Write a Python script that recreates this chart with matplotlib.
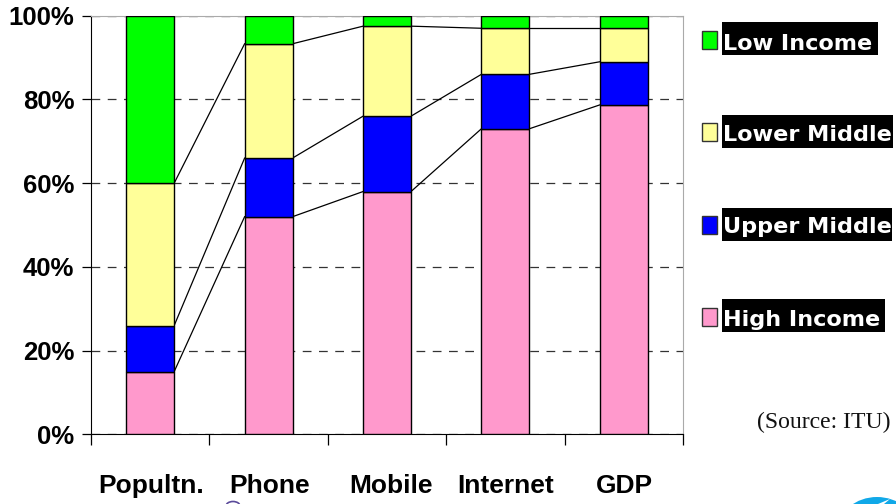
import numpy as np
import matplotlib
matplotlib.use('Agg')
import matplotlib.pyplot as plt
from matplotlib.patches import Rectangle, Ellipse, Polygon

# Share of world total per income group, in percent
categories = ['Popultn.', 'Phone', 'Mobile', 'Internet', 'GDP']
high_income = [15, 52, 58, 73, 78.7]
upper_middle = [11, 14, 18, 13, 10.3]
lower_middle = [34, 27.3, 21.5, 11, 8]
low_income = [40, 6.7, 2.5, 3, 3]

series = [high_income, upper_middle, lower_middle, low_income]
colors = ['#ff99cc', '#0000ff', '#ffff99', '#00ff00']
legend_labels = ['Low Income', 'Lower Middle', 'Upper Middle', 'High Income']
legend_colors = ['#00ff00', '#ffff99', '#0000ff', '#ff99cc']
yticks = [0, 20, 40, 60, 80, 100]

W, H = 896, 504
fig = plt.figure(figsize=(W / 100, H / 100), dpi=100)
ax = fig.add_axes([91 / W, 1 - 434.4 / H, (683 - 91) / W, 418.7 / H])

x = np.arange(len(categories))
width = 0.405
bottom = np.zeros(len(categories))
tops = []
for vals, c in zip(series, colors):
    ax.bar(x, vals, width, bottom=bottom, color=c, edgecolor='black', linewidth=1, zorder=3)
    bottom = bottom + np.array(vals)
    tops.append(bottom.copy())

# Series lines joining neighbouring bars
for top in tops[:-1]:
    for i in range(len(categories) - 1):
        ax.plot([x[i] + width / 2, x[i + 1] - width / 2], [top[i], top[i + 1]],
                color='black', lw=0.9, zorder=2)

ax.set_xlim(-0.5, 4.5)
ax.set_ylim(0, 100)
ax.set_yticks(yticks)
ax.set_yticklabels([f'{t}%' for t in yticks], fontsize=18.5, fontweight='bold',
                   family='Liberation Sans')
ax.set_xticks(np.arange(-0.5, 5))
ax.set_xticklabels([])
ax.tick_params(axis='y', direction='out', length=6.5, width=0.9, pad=5.5)
ax.tick_params(axis='x', direction='out', length=8, width=0.9)
ax.grid(axis='y', color='#333333', lw=0.9, ls=(0, (7, 6)), zorder=1)
ax.set_axisbelow(True)
for s in ['top', 'right']:
    ax.spines[s].set_color('#aaaaaa')

for c, px in zip(categories, [151, 270, 391, 506, 624]):
    fig.text(px / W, 1 - 493 / H, c, fontsize=19, fontweight='bold', family='Liberation Sans',
             ha='center', va='baseline', color='black')

# Legend drawn by hand, white text on black strips
strip_top = [22, 115, 208, 299]
swatch_top = [31, 123, 216, 308]
baseline = [50, 141, 233, 326]
strip_right = [878, 893, 892, 885]
for lab, c, st, sw, b, r in zip(legend_labels, legend_colors, strip_top, swatch_top, baseline, strip_right):
    fig.add_artist(Rectangle((701.5 / W, 1 - (sw + 18) / H), 15 / W, 18 / H, transform=fig.transFigure,
                             fc=c, ec='#333333', lw=1))
    fig.add_artist(Rectangle((722 / W, 1 - (st + 33) / H), (r - 722) / W, 33 / H, transform=fig.transFigure,
                             fc='black', ec='none'))
    fig.text(723 / W, 1 - b / H, lab, fontsize=16.1, fontweight='bold', family='DejaVu Sans',
             color='white', ha='left', va='baseline')

fig.text(890 / W, 1 - 428 / H, '(Source: ITU)', fontsize=17, family='Liberation Serif',
         ha='right', va='baseline', color='#111111')

# Logos cut off by the bottom edge
fig.add_artist(Ellipse((877 / W, 1 - 530 / H), 78 / W, 66 / H, transform=fig.transFigure,
                       fc='#10a8e8', ec='none'))
swoosh = [(878, 504), (890, 499), (884, 504)]
fig.add_artist(Polygon([(px / W, 1 - py / H) for px, py in swoosh], transform=fig.transFigure,
                       fc='white', ec='none'))
fig.add_artist(Ellipse((233 / W, 1 - 506 / H), 14 / W, 9 / H, transform=fig.transFigure,
                       fc='white', ec='#5a4a9a', lw=1.2))

fig.savefig('out.png', dpi=100, facecolor='white')
